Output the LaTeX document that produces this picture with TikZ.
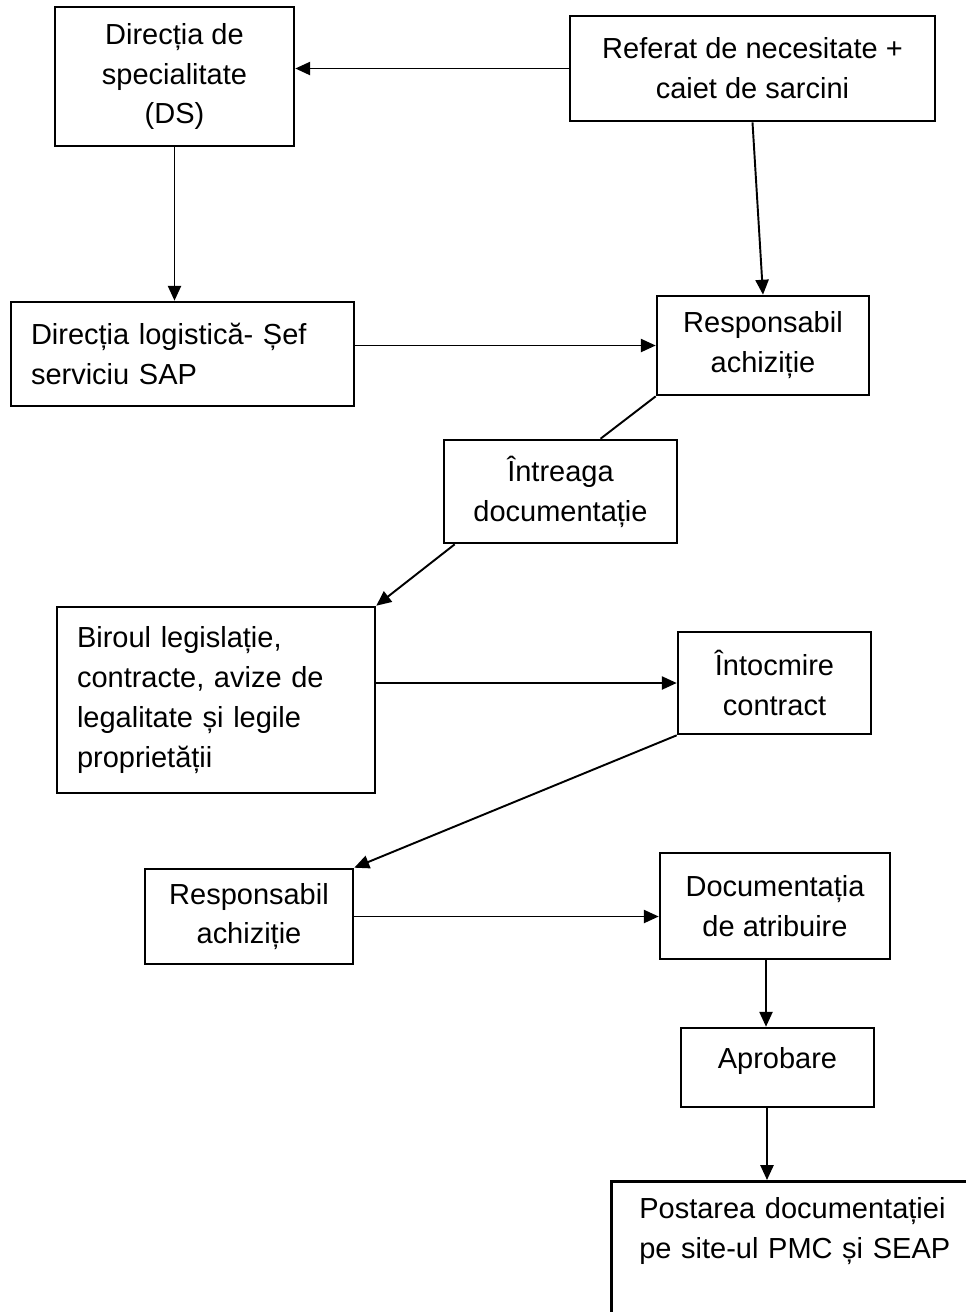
\documentclass[tikz,border=0pt]{standalone}
\usepackage{fontspec}
\setmainfont{Liberation Sans}
\usetikzlibrary{arrows.meta,positioning,calc}

\tikzset{
  cutie/.style={draw, line width=1.5pt, align=center, inner sep=2pt},
  cutiest/.style={draw, line width=1.5pt, align=left, inner xsep=0.4cm},
  sageata/.style={-{Triangle[length=8.5pt,width=7.5pt]}, line width=1.1pt},
  linie/.style={line width=1.1pt}
}

\begin{document}
\begin{tikzpicture}[x=0.02cm, y=-0.02cm, font=\fontsize{16.5pt}{22.7pt}\selectfont]
  \useasboundingbox (0,0) rectangle (966,1312);
  \clip (0,0) rectangle (966,1312);
  % casetele (coordonate in pixeli)
  \node[cutie, minimum width=4.78cm, minimum height=2.78cm] (ds) at (174.5,76.5) {Direcția de\\specialitate\\(DS)};
  \node[cutie, minimum width=7.3cm, minimum height=2.1cm] (ref) at (752.5,68.5) {Referat de necesitate +\\caiet de sarcini};
  \node[cutiest, minimum width=6.86cm, minimum height=2.08cm, text width=6.06cm] (log) at (182.5,354) {Direcția logistică- Șef\\serviciu SAP};
  \node[cutie, minimum width=4.24cm, minimum height=1.98cm] (respA) at (763,345.5) {Responsabil\\achiziție};
  \node[cutie, minimum width=4.66cm, minimum height=2.06cm] (intreg) at (560.5,491.5) {Întreaga\\documentație};
  \node[cutiest, minimum width=6.36cm, minimum height=3.72cm, text width=5.56cm] (birou) at (216,700) {Biroul legislație,\\contracte, avize de\\legalitate și legile\\proprietății};
  \node[cutie, minimum width=3.86cm, minimum height=2.04cm] (intoc) at (774.5,683) {Întocmire\\contract};
  \node[cutie, minimum width=4.16cm, minimum height=1.9cm] (respB) at (249,916.5) {Responsabil\\achiziție};
  \node[cutie, minimum width=4.6cm, minimum height=2.12cm] (docatr) at (775,906) {Documentația\\de atribuire};
  \node[cutie, minimum width=3.86cm, inner ysep=0pt, text height=0.8cm, text depth=0.78cm] (aprob) at (777.5,1067.5) {Aprobare};
  \node[cutiest, anchor=north west, minimum width=8cm, inner xsep=0.56cm, inner ysep=0.32cm, text width=7cm] (post) at (610,1180) {Postarea documentației\\pe site-ul PMC și SEAP\\[3cm]\mbox{}};
  % legaturi
  \draw[sageata] (ref.west) -- (ref.west -| ds.east);
  \draw[sageata] (ds.south) -- (ds.south |- log.north);
  \draw[sageata] (ref.south) -- (respA.north);
  \draw[sageata] (respA.west -| log.east) -- (respA.west);
  \draw[linie] (respA.south west) -- ($(intreg.north west)!0.67!(intreg.north east)$);
  \draw[sageata] ($(intreg.south west)+(12,0)$) -- (birou.north east);
  \draw[sageata] (intoc.west -| birou.east) -- (intoc.west);
  \draw[sageata] (intoc.south west) -- (respB.north east);
  \draw[sageata] (respB.east) -- (respB.east -| docatr.west);
  \draw[sageata] ([xshift=-0.18cm]docatr.south) -- ([xshift=-0.18cm]docatr.south |- aprob.north);
  \draw[sageata] ([xshift=-0.21cm]aprob.south) -- ([xshift=-0.21cm]aprob.south |- post.north);
\end{tikzpicture}
\end{document}
